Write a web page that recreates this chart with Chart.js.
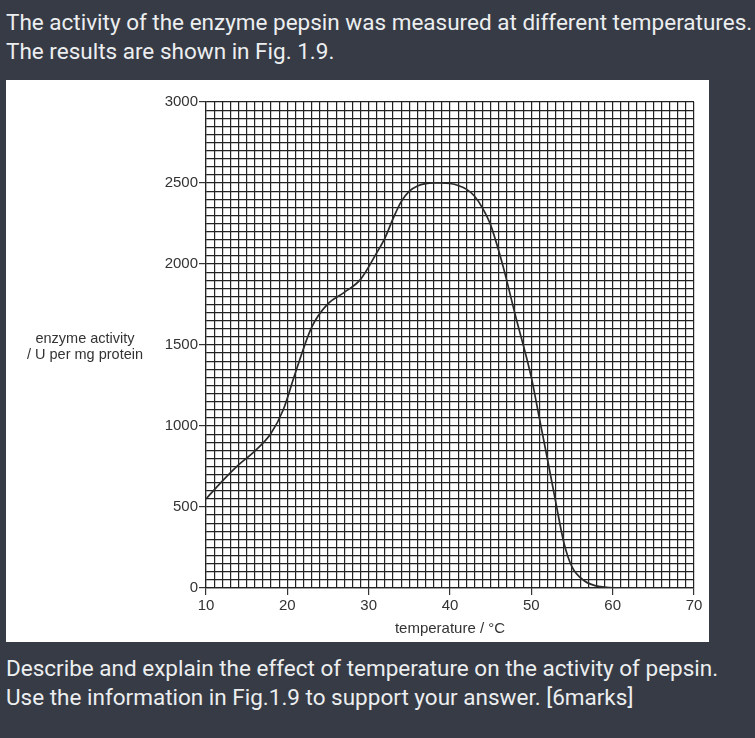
<!DOCTYPE html>
<html>
<head>
<meta charset="utf-8">
<script src="https://cdn.jsdelivr.net/npm/chart.js@4"></script>
<style>
	html, body { margin: 0; padding: 0; }
	body {
		width: 755px; height: 738px; overflow: hidden;
		background: #363b45; position: relative;
		font-family: Roboto, "Noto Sans", sans-serif;
	}
	.txt {
		position: absolute; left: 6px; margin: 0;
		color: #eceef0; font-size: 22.5px; line-height: 29px;
		white-space: nowrap;
	}
	#panel {
		position: absolute; left: 6px; top: 80px;
		width: 703px; height: 562px; background: #fff;
	}
</style>
</head>
<body>
<p class="txt" style="top:8px">The activity of the enzyme pepsin was measured at different temperatures.<br>The results are shown in Fig. 1.9.</p>
<div id="panel"><canvas id="pepsinChart" width="703" height="562"></canvas></div>
<p class="txt" style="top:654px">Describe and explain the effect of temperature on the activity of pepsin.<br>Use the information in Fig.1.9 to support your answer. [6marks]</p>

<script>
	'use strict';

	// curve
	const temperatures = [10, 12, 14, 16, 18, 19.5, 21, 23, 25, 27, 29, 31, 32, 33, 34, 35, 36, 37, 38, 39, 40, 41, 42, 43, 44, 45, 46.5, 48, 50, 51, 52, 53, 54, 55, 56.5, 58.5, 61, 70];
	const activity = [550, 660, 760, 845, 955, 1100, 1330, 1610, 1755, 1825, 1905, 2070, 2160, 2280, 2385, 2450, 2482, 2496, 2500, 2500, 2497, 2485, 2462, 2420, 2345, 2240, 1990, 1690, 1300, 1045, 790, 530, 280, 130, 45, 8, 0, 0];

	const xLabels = [10, 20, 30, 40, 50, 60, 70];
	const yLabels = [0, 500, 1000, 1500, 2000, 2500, 3000];

	const inkColor = '#333';
	const gridColor = '#222';
	const tickFont = { family: '"Liberation Sans", Arial, sans-serif', size: 15 };

	// y title is horizontal, two lines, left of the axis
	const yTitlePlugin = {
		id: 'yTitle',
		afterDraw(chart) {
			const ctx = chart.ctx;
			ctx.save();
			ctx.fillStyle = inkColor;
			ctx.font = '14.5px "Liberation Sans", Arial, sans-serif';
			ctx.textAlign = 'center';
			ctx.textBaseline = 'middle';
			ctx.fillText('enzyme activity', 79, 259);
			ctx.fillText('/ U per mg protein', 79, 275);
			ctx.restore();
		}
	};

	new Chart(document.getElementById('pepsinChart'), {
		type: 'line',
		data: {
			datasets: [{
				label: 'enzyme activity',
				data: temperatures.map((t, i) => ({ x: t, y: activity[i] })),
				borderColor: '#2a2a2a',
				borderWidth: 1.7,
				pointRadius: 0,
				fill: false,
				cubicInterpolationMode: 'monotone'
			}]
		},
		options: {
			responsive: false,
			animation: false,
			layout: { padding: { left: 0, right: 15, top: 22, bottom: 0 } },
			plugins: {
				legend: { display: false },
				tooltip: { enabled: false }
			},
			scales: {
				x: {
					type: 'linear',
					min: 10,
					max: 70,
					afterFit: (scale) => { scale.height = 54; },
					grid: {
						color: gridColor,
						lineWidth: 1.2,
						tickLength: 7,
						tickColor: (c) => xLabels.includes(c.tick.value) ? inkColor : 'rgba(0,0,0,0)'
					},
					border: { color: gridColor, width: 1.2 },
					ticks: {
						stepSize: 1,
						maxTicksLimit: 1000,
						autoSkip: false,
						maxRotation: 0,
						padding: 2,
						color: inkColor,
						font: tickFont,
						callback: (v) => xLabels.includes(v) ? String(v) : ''
					},
					title: {
						display: true,
						text: 'temperature / °C',
						color: inkColor,
						font: tickFont,
						padding: { top: 0, bottom: 4 }
					}
				},
				y: {
					type: 'linear',
					min: 0,
					max: 3000,
					afterFit: (scale) => { scale.width = 200; },
					grid: {
						color: gridColor,
						lineWidth: 1.2,
						tickLength: 7,
						tickColor: (c) => yLabels.includes(c.tick.value) ? inkColor : 'rgba(0,0,0,0)'
					},
					border: { color: gridColor, width: 1.2 },
					ticks: {
						stepSize: 50,
						maxTicksLimit: 1000,
						autoSkip: false,
						padding: 1,
						color: inkColor,
						font: tickFont,
						callback: (v) => yLabels.includes(v) ? String(v) : ''
					}
				}
			}
		},
		plugins: [yTitlePlugin]
	});
</script>
</body>
</html>
